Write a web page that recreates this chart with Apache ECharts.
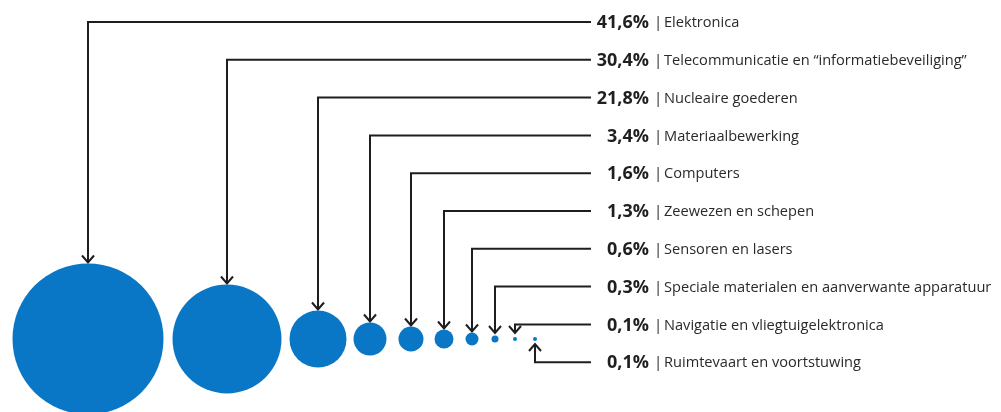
<!DOCTYPE html>
<html><head><meta charset="utf-8">
<script src="https://cdn.jsdelivr.net/npm/echarts@6/dist/echarts.min.js"></script>
<style>html,body{margin:0;padding:0;background:#fff}#c{width:1001px;height:412px}</style>
</head><body><div id="c"></div>
<script>
// ---- data ----
const categories = [
  "Elektronica",
  "Telecommunicatie en “informatiebeveiliging”",
  "Nucleaire goederen",
  "Materiaalbewerking",
  "Computers",
  "Zeewezen en schepen",
  "Sensoren en lasers",
  "Speciale materialen en aanverwante apparatuur",
  "Navigatie en vliegtuigelektronica",
  "Ruimtevaart en voortstuwing"
];
const shares = [41.6, 30.4, 21.8, 3.4, 1.6, 1.3, 0.6, 0.3, 0.1, 0.1];

// ---- style / layout ----
const bubbleDiameters = [151, 109, 57, 33, 25, 19, 13, 7, 4, 4];
const bubbleGaps = [9, 8, 7, 12, 11, 12, 13, 14.5, 16];
const firstBubbleLeft = 12.5;
const bubbleCenterY = 339;
const rowTop = 22, rowStep = 37.8;
const leaderEndX = 591, pctRightX = 649, pipeX = 658, nameX = 664;
const bubbleColor = '#0a77c6';
const lineColor = '#1e1e1e';

// packed bubble centres
const centersX = [];
bubbleDiameters.forEach((d, i) => {
  if (i === 0) centersX.push(firstBubbleLeft + d / 2);
  else centersX.push(centersX[i - 1] + bubbleDiameters[i - 1] / 2 + bubbleGaps[i - 1] + d / 2);
});
const fmt = v => v.toFixed(1).replace('.', ',') + '%';

const chart = echarts.init(document.getElementById('c'), null, {renderer: 'canvas'});
chart.setOption({
  animation: false,
  backgroundColor: '#fff',
  grid: {left: 0, right: 0, top: 0, bottom: 0},
  xAxis: {type: 'value', min: 0, max: 1001, show: false},
  yAxis: {type: 'value', min: 0, max: 412, inverse: true, show: false},
  series: [
    {
      type: 'scatter',
      symbol: 'circle',
      clip: false,
      data: shares.map((v, i) => [centersX[i], bubbleCenterY, v]),
      symbolSize: (val, p) => bubbleDiameters[p.dataIndex],
      itemStyle: {color: bubbleColor, opacity: 1},
      silent: true
    },
    {
      type: 'custom',
      data: categories.map((c, i) => [i, shares[i]]),
      renderItem: function (params, api) {
        const i = api.value(0);
        const v = api.value(1);
        const rowY = rowTop + i * rowStep;
        const cx = centersX[i];
        const r = bubbleDiameters[i] / 2;
        const up = i === categories.length - 1;
        const tipY = up ? bubbleCenterY + r + 3 : Math.min(bubbleCenterY - r - 1, 333);
        const P = (x, y) => api.coord([x, y]);
        const ah = up ? 7 : -7;
        const ty = P(0, rowY + 1)[1];
        const children = [
          {type: 'polyline', shape: {points: [P(leaderEndX, rowY), P(cx, rowY), P(cx, tipY)]},
           style: {stroke: lineColor, lineWidth: 2, fill: null, lineJoin: 'miter'}},
          {type: 'polyline', shape: {points: [P(cx - 6, tipY + ah), P(cx, tipY), P(cx + 6, tipY + ah)]},
           style: {stroke: lineColor, lineWidth: 2, fill: null}},
          {type: 'text', x: P(pctRightX, 0)[0], y: ty,
           style: {text: fmt(v), align: 'right', verticalAlign: 'middle',
                   fontFamily: '"Open Sans"', fontWeight: 'bold', fontSize: 18, fill: '#1f1f1f'}},
          {type: 'text', x: P(pipeX, 0)[0], y: ty,
           style: {text: '|', align: 'center', verticalAlign: 'middle',
                   fontFamily: '"Open Sans"', fontSize: 15, fill: '#2a2a2a'}},
          {type: 'text', x: P(nameX, 0)[0], y: ty,
           style: {text: categories[i], align: 'left', verticalAlign: 'middle',
                   fontFamily: '"Open Sans"', fontSize: 14.6, fill: '#2a2a2a'}}
        ];
        return {type: 'group', children: children};
      },
      silent: true
    }
  ]
});
</script>
</body></html>
